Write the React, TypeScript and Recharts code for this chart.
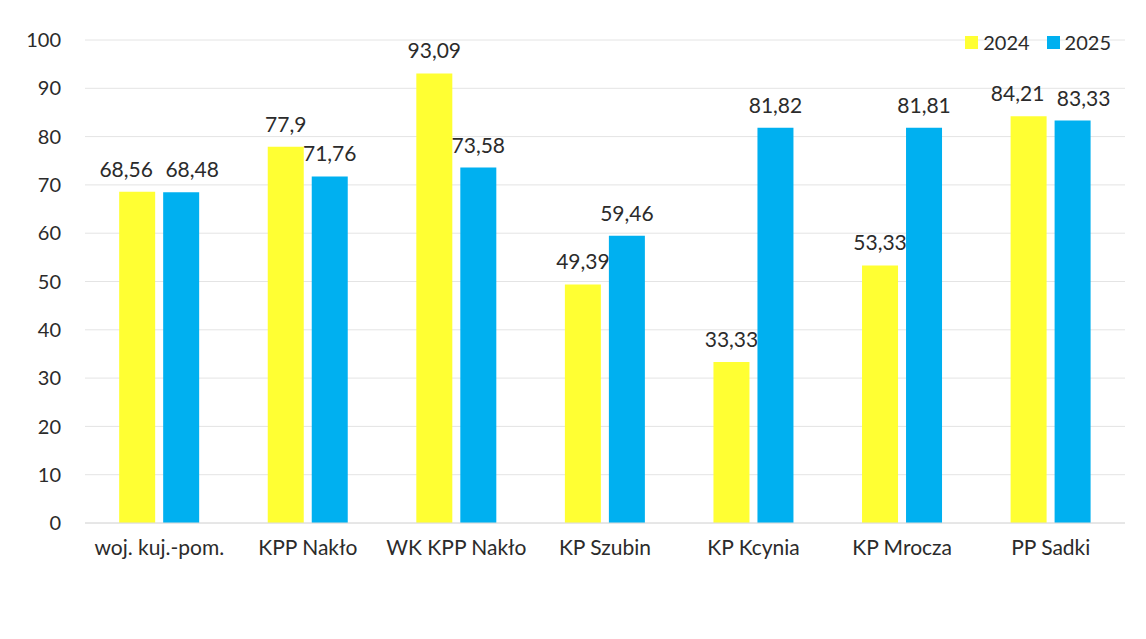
import { BarChart, Bar, XAxis, YAxis, CartesianGrid, Legend, LabelList } from 'recharts';

const units = ['woj. kuj.-pom.', 'KPP Nakło', 'WK KPP Nakło', 'KP Szubin', 'KP Kcynia', 'KP Mrocza', 'PP Sadki'];
const values2024 = [68.56, 77.9, 93.09, 49.39, 33.33, 53.33, 84.21];
const values2025 = [68.48, 71.76, 73.58, 59.46, 81.82, 81.81, 83.33];
const yTicks = [0, 10, 20, 30, 40, 50, 60, 70, 80, 90, 100];

const data = units.map((name, i) => ({ name, y2024: values2024[i], y2025: values2025[i] }));

const YELLOW = '#FFFF33';
const BLUE = '#00B0F0';
const TEXT = '#2b2b2b';
const FONT = 'Lato, "Open Sans", sans-serif';

const fmt = (v: number) => String(v).replace('.', ',');

// value label above a bar; when both bars of a group are almost equal the
// labels are pushed apart so they don't run into each other
const makeLabel = (side: number) => (props: any) => {
  const { x, y, width, value, index } = props;
  const close = Math.abs(values2024[index] - values2025[index]) < 3;
  const dx = close ? side * 11 : 0;
  return (
    <text
      x={x + width / 2 + dx}
      y={y - 15}
      textAnchor="middle"
      fill={TEXT}
      fontSize={21}
      fontFamily={FONT}
    >
      {fmt(value)}
    </text>
  );
};

const LegendBox = () => (
  <div style={{ display: 'flex', alignItems: 'center', height: 24, fontFamily: FONT, fontSize: 20, color: TEXT }}>
    <span style={{ width: 13, height: 13, background: YELLOW, marginRight: 5 }}></span>
    <span style={{ marginRight: 17 }}>2024</span>
    <span style={{ width: 13, height: 13, background: BLUE, marginRight: 5 }}></span>
    <span>2025</span>
  </div>
);

export default function App() {
  return (
    <div style={{ margin: -8, width: 1146, height: 639, background: '#fff' }}>
      <BarChart
        width={1146}
        height={639}
        data={data}
        margin={{ top: 16, right: 21, bottom: 76, left: 0 }}
        barCategoryGap="23%"
        barGap={8}
      >
        <CartesianGrid vertical={false} stroke="#e4e4e4" />
        <XAxis
          dataKey="name"
          height={40}
          tickLine={false}
          tickSize={0}
          tickMargin={17}
          axisLine={{ stroke: '#dcdcdc' }}
          tick={{ fill: TEXT, fontSize: 21, fontFamily: FONT }}
          interval={0}
        />
        <YAxis
          width={85}
          domain={[0, 100]}
          ticks={yTicks}
          tickLine={false}
          axisLine={false}
          tickSize={0}
          tickMargin={24}
          tick={{ fill: TEXT, fontSize: 20, fontFamily: FONT }}
        />
        <Legend
          verticalAlign="top"
          align="right"
          content={<LegendBox />}
          wrapperStyle={{ top: 30, right: 35, left: 'auto', width: 'auto' }}
        />
        <Bar dataKey="y2024" name="2024" fill={YELLOW} isAnimationActive={false}>
          <LabelList dataKey="y2024" content={makeLabel(-1)} />
        </Bar>
        <Bar dataKey="y2025" name="2025" fill={BLUE} isAnimationActive={false}>
          <LabelList dataKey="y2025" content={makeLabel(1)} />
        </Bar>
      </BarChart>
    </div>
  );
}
